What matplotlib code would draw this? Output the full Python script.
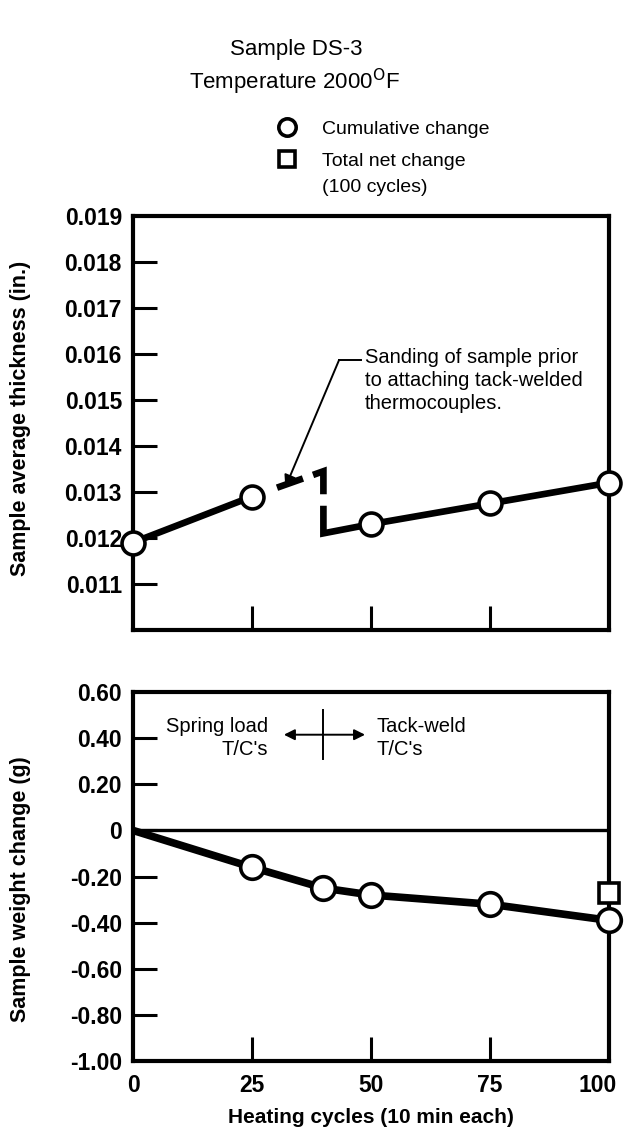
import numpy as np
import matplotlib
matplotlib.use("Agg")
import matplotlib.pyplot as plt
import matplotlib.transforms as mtransforms
from matplotlib.lines import Line2D

plt.rcParams['font.family'] = ['Liberation Sans', 'DejaVu Sans']
plt.rcParams['lines.scale_dashes'] = False

# Top panel: average thickness (in.) vs heating cycles
thick_cycles = [0, 25, 50, 75, 100]
thickness = [0.0119, 0.0129, 0.0123, 0.01275, 0.0132]
# jump caused by sanding at 40 cycles
sanding_cycle = 40
sanding_before = 0.01345
sanding_mid = 0.0127
sanding_after = 0.0121

# Bottom panel: weight change (g)
weight_cycles = [0, 25, 40, 50, 75, 100]
weight_change = [0.0, -0.16, -0.25, -0.28, -0.32, -0.39]
net_cycle = [100]
net_change = [-0.27]

x_ticks = [0, 25, 50, 75, 100]
thick_ticks = [0.011, 0.012, 0.013, 0.014, 0.015, 0.016, 0.017, 0.018, 0.019]
weight_ticks = [0.6, 0.4, 0.2, 0, -0.2, -0.4, -0.6, -0.8, -1.0]
weight_labels = ['0.60', '0.40', '0.20', '0', '-0.20', '-0.40', '-0.60', '-0.80', '-1.00']

fig = plt.figure(figsize=(6.25, 11.33), dpi=100)
ax1 = fig.add_axes([0.2128, 0.4440, 0.7616, 0.3654])
ax2 = fig.add_axes([0.2128, 0.0635, 0.7616, 0.3257])

for ax in (ax1, ax2):
    for s in ax.spines.values():
        s.set_linewidth(3)
    ax.tick_params(direction='in', length=17, width=2.2, pad=8, labelsize=16.5)
    ax.tick_params(axis='x', pad=9)
    ax.set_xlim(0, 100)

# ---- top panel
ax1.set_ylim(0.010, 0.019)
ax1.set_yticks(thick_ticks)
ax1.set_yticklabels([f'{v:.3f}' for v in thick_ticks], fontweight='bold')
ax1.set_xticks([25, 50, 75])
ax1.tick_params(axis='x', labelbottom=False)
ax1.yaxis.get_major_ticks()[-1].tick1line.set_visible(False)

lw_top = 4.8
ax1.plot(thick_cycles[:2], thickness[:2], color='black', lw=lw_top, zorder=2)
dash_line, = ax1.plot([thick_cycles[1], sanding_cycle, sanding_cycle],
                      [thickness[1], sanding_before, sanding_mid],
                      color='black', lw=lw_top, zorder=2,
                      solid_joinstyle='miter', dash_joinstyle='miter')
dash_line.set_linestyle((0, (0.01, 19.1, 19.8, 7.7, 24.5, 20)))
dash_line.set_dash_capstyle('butt')
ax1.plot([sanding_cycle, sanding_cycle] + thick_cycles[2:],
         [sanding_mid, sanding_after] + thickness[2:],
         color='black', lw=lw_top, zorder=2, solid_joinstyle='miter',
         solid_capstyle='butt')
ax1.plot(thick_cycles, thickness, 'o', ms=16.5, mfc='white', mec='black',
         mew=2.6, zorder=3, clip_on=False)

ax1.plot([48.0, 43.3], [0.01587, 0.01587], color='black', lw=1.4)
ax1.annotate('', xy=(32, 0.0131), xytext=(43.3, 0.01587),
             arrowprops=dict(arrowstyle='-|>', lw=1.4, color='black',
                             mutation_scale=18, shrinkA=0, shrinkB=0))
ax1.text(48.75, 0.01612, 'Sanding of sample prior\nto attaching tack-welded\nthermocouples.',
         fontsize=14.5, va='top', ha='left', linespacing=1.25)
ax1.set_ylabel('Sample average thickness (in.)', fontsize=15.5,
               fontweight='bold')
ax1.yaxis.set_label_coords(-0.214, 0.51)

# ---- bottom panel
ax2.set_ylim(-1.0, 0.6)
ax2.set_yticks(weight_ticks)
ax2.set_yticklabels(weight_labels, fontweight='bold')
ax2.set_xticks(x_ticks)
ax2.set_xticklabels([str(v) for v in x_ticks], fontweight='bold')
for t in (ax2.yaxis.get_major_ticks()[0], ax2.yaxis.get_major_ticks()[-1]):
    t.tick1line.set_visible(False)
for t in (ax2.xaxis.get_major_ticks()[0], ax2.xaxis.get_major_ticks()[-1]):
    t.tick1line.set_visible(False)
# the "100" sits a little left of its tick in the original
last = ax2.get_xticklabels()[-1]
last.set_transform(last.get_transform() +
                   mtransforms.ScaledTranslation(-8 / 72, 0, fig.dpi_scale_trans))

ax2.axhline(0, color='black', lw=2.4, zorder=1)
ax2.plot(weight_cycles, weight_change, color='black', lw=5.5, zorder=2,
         solid_joinstyle='round')
ax2.plot(weight_cycles[1:], weight_change[1:], 'o', ms=17, mfc='white',
         mec='black', mew=2.6, zorder=3, clip_on=False)
ax2.plot(net_cycle, net_change, 's', ms=14.5, mfc='white', mec='black',
         mew=2.6, zorder=3, clip_on=False)

ax2.plot([sanding_cycle, sanding_cycle], [0.31, 0.52], color='black', lw=1.4)
ax2.annotate('', xy=(31.7, 0.415), xytext=(48.75, 0.415),
             arrowprops=dict(arrowstyle='<|-|>', lw=1.4, color='black',
                             mutation_scale=16, shrinkA=0, shrinkB=0))
ax2.text(28.3, 0.40, 'Spring load\nT/C\'s', fontsize=14.5, ha='right',
         va='center', multialignment='right', linespacing=1.25)
ax2.text(51.25, 0.40, 'Tack-weld\nT/C\'s', fontsize=14.5, ha='left',
         va='center', linespacing=1.25)

ax2.set_ylabel('Sample weight change (g)', fontsize=15.5, fontweight='bold')
ax2.yaxis.set_label_coords(-0.214, 0.465)
ax2.set_xlabel('Heating cycles (10 min each)', fontsize=15, fontweight='bold',
               labelpad=8)

# ---- titles and key
fig.text(296 / 625, 1 - 50 / 1133, 'Sample DS-3', ha='center', va='center',
         fontsize=16)
fig.text(294 / 625, 1 - 82 / 1133, 'Temperature 2000$^{\\rm O}$F',
         ha='center', va='center', fontsize=16)

key_handles = [
    Line2D([], [], ls='none', marker='o', ms=12.5, mfc='white', mec='black', mew=2.6),
    Line2D([], [], ls='none', marker='s', ms=11.5, mfc='white', mec='black', mew=2.6),
]
fig.legend(key_handles, ['Cumulative change', 'Total net change'],
           loc='upper left', bbox_to_anchor=(277 / 625, 1 - 120 / 1133),
           frameon=False, fontsize=14, handlelength=1.0, handletextpad=1.3,
           labelspacing=0.75, borderaxespad=0, borderpad=0)
fig.text(322 / 625, 1 - 188 / 1133, '(100 cycles)', ha='left', va='center',
         fontsize=14)

fig.savefig('out.png', dpi=100)
